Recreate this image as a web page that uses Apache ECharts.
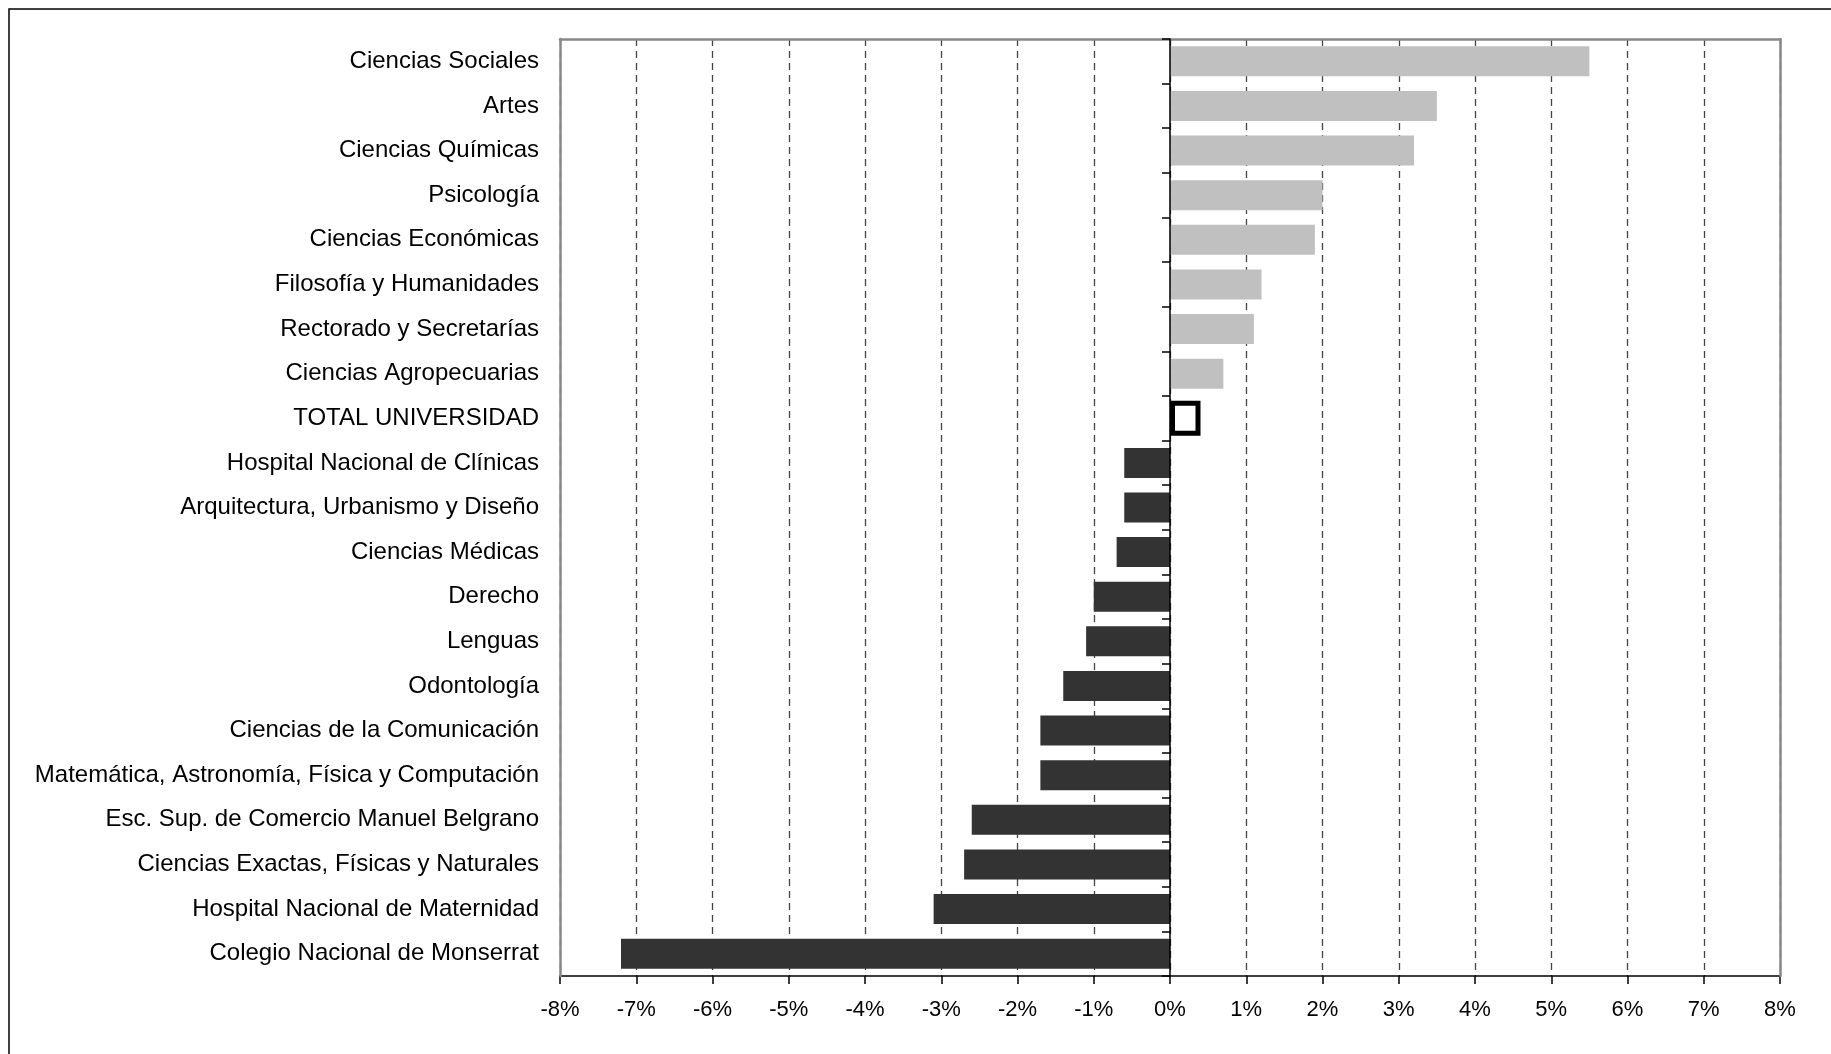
<!DOCTYPE html>
<html>
<head>
<meta charset="utf-8">
<script src="https://cdn.jsdelivr.net/npm/echarts@6/dist/echarts.min.js"></script>
<style>
html,body{margin:0;padding:0;background:#fff;}
#chart{width:1831px;height:1054px;}
</style>
</head>
<body>
<div id="chart"></div>
<script>
const categories = [
  "Ciencias Sociales",
  "Artes",
  "Ciencias Químicas",
  "Psicología",
  "Ciencias Económicas",
  "Filosofía y Humanidades",
  "Rectorado y Secretarías",
  "Ciencias Agropecuarias",
  "TOTAL UNIVERSIDAD",
  "Hospital Nacional de Clínicas",
  "Arquitectura, Urbanismo y Diseño",
  "Ciencias Médicas",
  "Derecho",
  "Lenguas",
  "Odontología",
  "Ciencias de la Comunicación",
  "Matemática, Astronomía, Física y Computación",
  "Esc. Sup. de Comercio Manuel Belgrano",
  "Ciencias Exactas, Físicas y Naturales",
  "Hospital Nacional de Maternidad",
  "Colegio Nacional de Monserrat"
];
const values = [5.5, 3.5, 3.2, 2.0, 1.9, 1.2, 1.1, 0.7, 0.4, -0.6, -0.6, -0.7, -1.0, -1.1, -1.4, -1.7, -1.7, -2.6, -2.7, -3.1, -7.2];
const totalLabel = "TOTAL UNIVERSIDAD";
const xTicks = [-8, -7, -6, -5, -4, -3, -2, -1, 0, 1, 2, 3, 4, 5, 6, 7, 8];

const cats = categories.slice().reverse();
const vals = values.slice().reverse();

const FONT = "'Liberation Sans', Arial, Helvetica, sans-serif";
const unitData = vals.map((v, i) => {
  if (cats[i] === totalLabel) return null;
  return { value: v, itemStyle: { color: v >= 0 ? '#c0c0c0' : '#333333' } };
});
const totalData = vals.map((v, i) => cats[i] === totalLabel ? v : null);

const chart = echarts.init(document.getElementById('chart'), null, { renderer: 'canvas' });
chart.setOption({
  animation: false,
  backgroundColor: '#ffffff',
  graphic: [{
    type: 'rect',
    shape: { x: 9, y: 9, width: 1900, height: 1100 },
    style: { fill: 'none', stroke: '#000000', lineWidth: 1.5 },
    silent: true
  }],
  grid: { left: 560, right: 51, top: 39, bottom: 78, containLabel: false },
  xAxis: [{
    type: 'value',
    min: xTicks[0],
    max: xTicks[xTicks.length - 1],
    interval: 1,
    position: 'bottom',
    z: 1,
    axisLine: { show: true, onZero: false, lineStyle: { color: '#000000', width: 1.5 } },
    axisTick: { show: true, length: 8, lineStyle: { color: '#000000', width: 1.5 } },
    axisLabel: { formatter: '{value}%', fontSize: 22, color: '#000000', fontFamily: FONT, margin: 23 },
    splitLine: { show: true, lineStyle: { color: '#444444', width: 1.3, type: [7, 5] } }
  }, {
    type: 'value',
    min: xTicks[0],
    max: xTicks[xTicks.length - 1],
    interval: 1,
    position: 'top',
    z: 2,
    axisLine: { show: true, onZero: false, lineStyle: { color: '#888888', width: 2.5 } },
    axisTick: { show: false },
    axisLabel: { show: false },
    splitLine: { show: false }
  }],
  yAxis: [{
    type: 'category',
    data: cats,
    position: 'left',
    z: 2,
    axisLine: { show: true, onZero: false, lineStyle: { color: '#888888', width: 2.5 } },
    axisTick: { show: false },
    axisLabel: { fontSize: 24, color: '#000000', fontFamily: FONT, margin: 21, padding: [2, 0, 0, 0] },
    splitLine: { show: false }
  }, {
    type: 'category',
    data: cats,
    position: 'right',
    z: 2,
    axisLine: { show: true, onZero: false, lineStyle: { color: '#888888', width: 2.5 } },
    axisTick: { show: false },
    axisLabel: { show: false },
    splitLine: { show: false }
  }, {
    type: 'category',
    data: cats,
    position: 'left',
    z: 5,
    axisLine: { show: true, onZero: true, lineStyle: { color: '#000000', width: 1.5 } },
    axisTick: { show: true, length: 8, inside: false, lineStyle: { color: '#000000', width: 1.5 } },
    axisLabel: { show: false },
    splitLine: { show: false }
  }],
  series: [{
    type: 'bar',
    xAxisIndex: 0,
    yAxisIndex: 0,
    data: unitData,
    barWidth: 30,
    z: 3
  }, {
    type: 'bar',
    xAxisIndex: 0,
    yAxisIndex: 2,
    data: totalData,
    barWidth: 35,
    itemStyle: { color: '#ffffff', borderColor: '#000000', borderWidth: 5 },
    z: 4
  }]
});
</script>
</body>
</html>
